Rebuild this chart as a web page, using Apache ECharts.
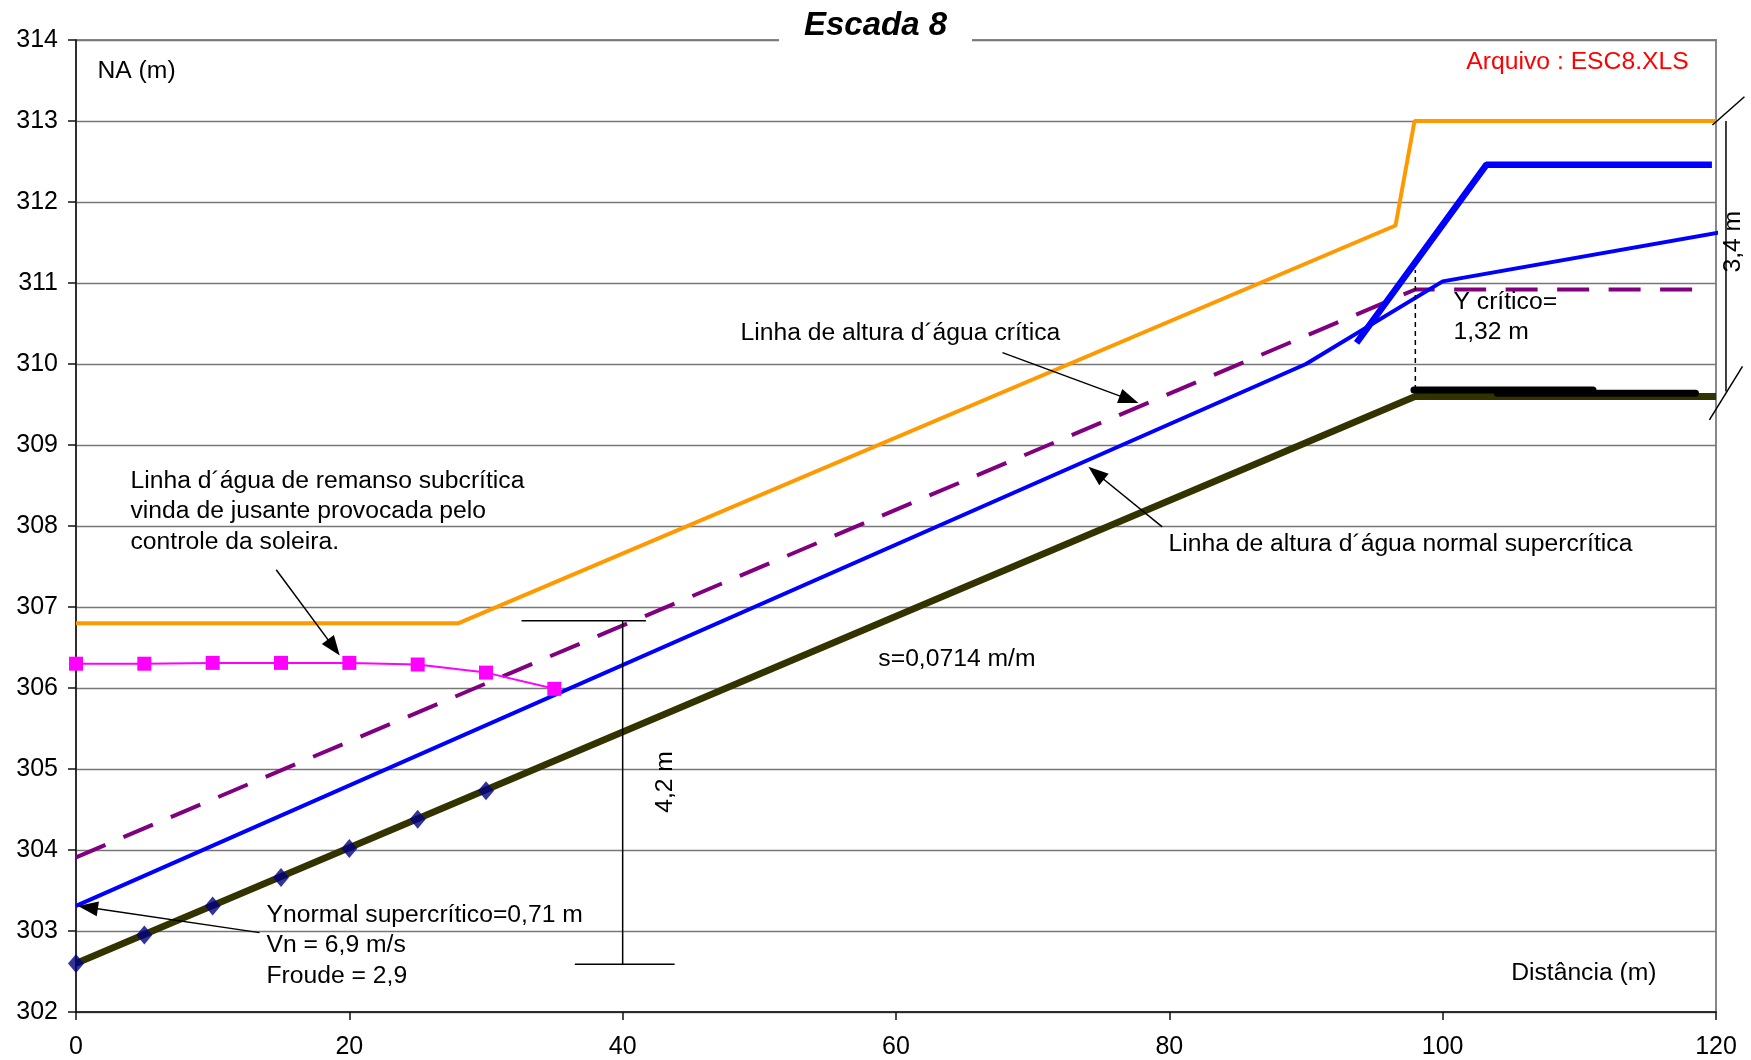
<!DOCTYPE html>
<html>
<head>
<meta charset="utf-8">
<script src="https://cdn.jsdelivr.net/npm/echarts@6/dist/echarts.min.js"></script>
<style>
html,body{margin:0;padding:0;background:#fff;}
#chart{width:1751px;height:1060px;}
</style>
</head>
<body>
<div id="chart"></div>
<script>
// ---------- data ----------
const xTickValues = [0, 20, 40, 60, 80, 100, 120];
const yTickValues = [302, 303, 304, 305, 306, 307, 308, 309, 310, 311, 312, 313, 314];

const bedX = [0, 98, 120];
const bedY = [302.6, 309.6, 309.6];

const surveyX = [0, 5, 10, 15, 20, 25, 30];
const surveyY = [302.6, 302.95, 303.31, 303.66, 304.02, 304.38, 304.73];

const wallX = [0, 28, 96.55, 97.94, 120];
const wallY = [306.8, 306.8, 311.71, 313.0, 313.0];

const criticalX = [0, 98, 119.2];
const criticalY = [303.91, 310.92, 310.92];

const normalX = [0, 90, 100, 120.5];
const normalY = [303.31, 310.0, 311.02, 311.63];

const jumpX = [93.7, 103.2, 119.7];
const jumpY = [310.26, 312.46, 312.46];

const backwaterX = [0, 5, 10, 15, 20, 25, 30, 35];
const backwaterY = [306.30, 306.30, 306.31, 306.31, 306.31, 306.29, 306.19, 305.99];

const sillAX = [97.9, 111];
const sillAY = [309.68, 309.68];
const sillBX = [104, 118.5];
const sillBY = [309.64, 309.64];

// annotation geometry in data units
const arrows = [
  [[14.65, 307.46], [19.3, 306.40]],
  [[67.79, 310.14], [77.74, 309.52]],
  [[79.48, 307.99], [74.08, 308.73]],
  [[13.43, 302.98], [0.15, 303.31]]
];
const dimSegments = [
  [[40, 302.59], [40, 306.83]],
  [[32.6, 306.83], [41.7, 306.83]],
  [[36.5, 302.59], [43.8, 302.59]],
  [[120.73, 313.0], [120.73, 309.66]],
  [[119.74, 312.95], [122.08, 313.3]],
  [[119.52, 309.31], [121.94, 309.97]]
];
const dashedSegments = [
  [[98, 309.68], [98, 311.16]]
];
const notes = [
  {t: 'NA (m)', at: [1.57, 313.62]},
  {t: 'Arquivo : ESC8.XLS', at: [118.0, 313.73], align: 'right', color: '#ff0000'},
  {t: 'Linha de altura d\u00b4\u00e1gua cr\u00edtica', at: [48.62, 310.377]},
  {t: 'Linha d\u00b4\u00e1gua de remanso subcr\u00edtica', at: [3.99, 308.549]},
  {t: 'vinda de jusante provocada pelo', at: [3.99, 308.179]},
  {t: 'controle da soleira.', at: [3.99, 307.80]},
  {t: 'Linha de altura d\u00b4\u00e1gua normal supercr\u00edtica', at: [79.94, 307.771]},
  {t: 'Ynormal supercr\u00edtico=0,71 m', at: [13.94, 303.189]},
  {t: 'Vn = 6,9 m/s', at: [13.94, 302.819]},
  {t: 'Froude = 2,9', at: [13.94, 302.448]},
  {t: 's=0,0714 m/m', at: [58.71, 306.356]},
  {t: 'Y cr\u00edtico=', at: [100.79, 310.76]},
  {t: '1,32 m', at: [100.79, 310.39]},
  {t: 'Dist\u00e2ncia (m)', at: [105.01, 302.477]},
  {t: '4,2 m', at: [43.1, 304.84], rot: true},
  {t: '3,4 m', at: [121.25, 311.51], rot: true}
];

// ---------- helpers ----------
const zip = (xs, ys) => xs.map((x, i) => [x, ys[i]]);
const FONT = 'Liberation Sans, Arial, sans-serif';
const FS = 24.7;

const chart = echarts.init(document.getElementById('chart'), null, {renderer: 'canvas'});

function lineSeries(name, xs, ys, style, extra) {
  return Object.assign({
    name: name,
    type: 'line',
    data: zip(xs, ys),
    showSymbol: false,
    symbol: 'none',
    clip: false,
    silent: true,
    lineStyle: style
  }, extra || {});
}

const option = {
  animation: false,
  backgroundColor: '#ffffff',
  title: {
    text: 'Escada 8',
    left: 'center',
    top: 6,
    padding: [3, 25],
    backgroundColor: '#ffffff',
    textStyle: {fontSize: 33, fontWeight: 'bold', fontStyle: 'italic', color: '#000', fontFamily: FONT}
  },
  grid: {
    left: 76, right: 35, top: 40, bottom: 48,
    show: true, borderColor: '#888888', borderWidth: 2, backgroundColor: 'transparent'
  },
  xAxis: {
    type: 'value', min: xTickValues[0], max: xTickValues[xTickValues.length - 1], interval: 20,
    axisLine: {show: true, onZero: false, lineStyle: {color: '#111', width: 1.5}},
    axisTick: {show: true, inside: false, length: 8, lineStyle: {color: '#111', width: 1.5}},
    axisLabel: {fontSize: 25, color: '#000', margin: 23, fontFamily: FONT},
    splitLine: {show: false}
  },
  yAxis: {
    type: 'value', min: yTickValues[0], max: yTickValues[yTickValues.length - 1], interval: 1,
    axisLine: {show: true, onZero: false, lineStyle: {color: '#111', width: 1.5}},
    axisTick: {show: true, inside: false, length: 8, lineStyle: {color: '#111', width: 1.5}},
    axisLabel: {fontSize: 25, color: '#000', margin: 18, fontFamily: FONT},
    splitLine: {show: true, lineStyle: {color: '#777777', width: 1.3}}
  },
  series: [
    lineSeries('Fundo', bedX, bedY, {color: '#333300', width: 7}, {z: 3}),
    lineSeries('Parede', wallX, wallY, {color: '#ff9900', width: 4}, {z: 4}),
    lineSeries('Cr\u00edtica', criticalX, criticalY, {color: '#800080', width: 4, type: [32, 19.5]}, {z: 5}),
    lineSeries('Normal', normalX, normalY, {color: '#0000ff', width: 4}, {z: 6}),
    lineSeries('Ressalto', jumpX, jumpY, {color: '#0000ff', width: 6.5}, {z: 6}),
    lineSeries('Soleira A', sillAX, sillAY, {color: '#000000', width: 7, cap: 'round'}, {z: 7}),
    lineSeries('Soleira B', sillBX, sillBY, {color: '#000000', width: 7, cap: 'round'}, {z: 7}),
    {
      name: 'Remanso', type: 'line', data: zip(backwaterX, backwaterY),
      symbol: 'rect', symbolSize: 14, showSymbol: true, silent: true, z: 8,
      lineStyle: {color: '#ff00ff', width: 2},
      itemStyle: {color: '#ff00ff'}
    },
    {
      name: 'Levantamento', type: 'scatter', data: zip(surveyX, surveyY),
      symbol: 'diamond', symbolSize: [16, 19], silent: true, z: 9,
      itemStyle: {color: '#000080'}
    }
  ]
};
chart.setOption(option);

// ---------- annotations placed through the chart's own scales ----------
const P = (pt) => chart.convertToPixel({gridIndex: 0}, pt);
const graphics = [];

dimSegments.forEach(seg => {
  const a = P(seg[0]), b = P(seg[1]);
  graphics.push({type: 'line', z: 100, silent: true,
    shape: {x1: a[0], y1: a[1], x2: b[0], y2: b[1]},
    style: {stroke: '#000', lineWidth: 1.5}});
});
dashedSegments.forEach(seg => {
  const a = P(seg[0]), b = P(seg[1]);
  graphics.push({type: 'line', z: 100, silent: true,
    shape: {x1: a[0], y1: a[1], x2: b[0], y2: b[1]},
    style: {stroke: '#000', lineWidth: 1.5, lineDash: [5, 4]}});
});
arrows.forEach(seg => {
  const a = P(seg[0]), b = P(seg[1]);
  const dx = b[0] - a[0], dy = b[1] - a[1];
  const len = Math.sqrt(dx * dx + dy * dy);
  const ux = dx / len, uy = dy / len;
  const L = 20, W = 7.5;
  const bx = b[0] - ux * L, by = b[1] - uy * L;
  graphics.push({type: 'line', z: 100, silent: true,
    shape: {x1: a[0], y1: a[1], x2: bx + ux * 2, y2: by + uy * 2},
    style: {stroke: '#000', lineWidth: 1.5}});
  graphics.push({type: 'polygon', z: 101, silent: true,
    shape: {points: [[b[0], b[1]], [bx - uy * W, by + ux * W], [bx + uy * W, by - ux * W]]},
    style: {fill: '#000'}});
});
notes.forEach(n => {
  const p = P(n.at);
  graphics.push({type: 'text', z: 102, silent: true,
    x: p[0], y: p[1], rotation: n.rot ? Math.PI / 2 : 0,
    style: {text: n.t, fill: n.color || '#000', fontSize: FS, fontFamily: FONT,
      align: n.rot ? 'center' : (n.align || 'left'), verticalAlign: 'middle'}});
});
chart.setOption({graphic: {elements: graphics}});
</script>
</body>
</html>
